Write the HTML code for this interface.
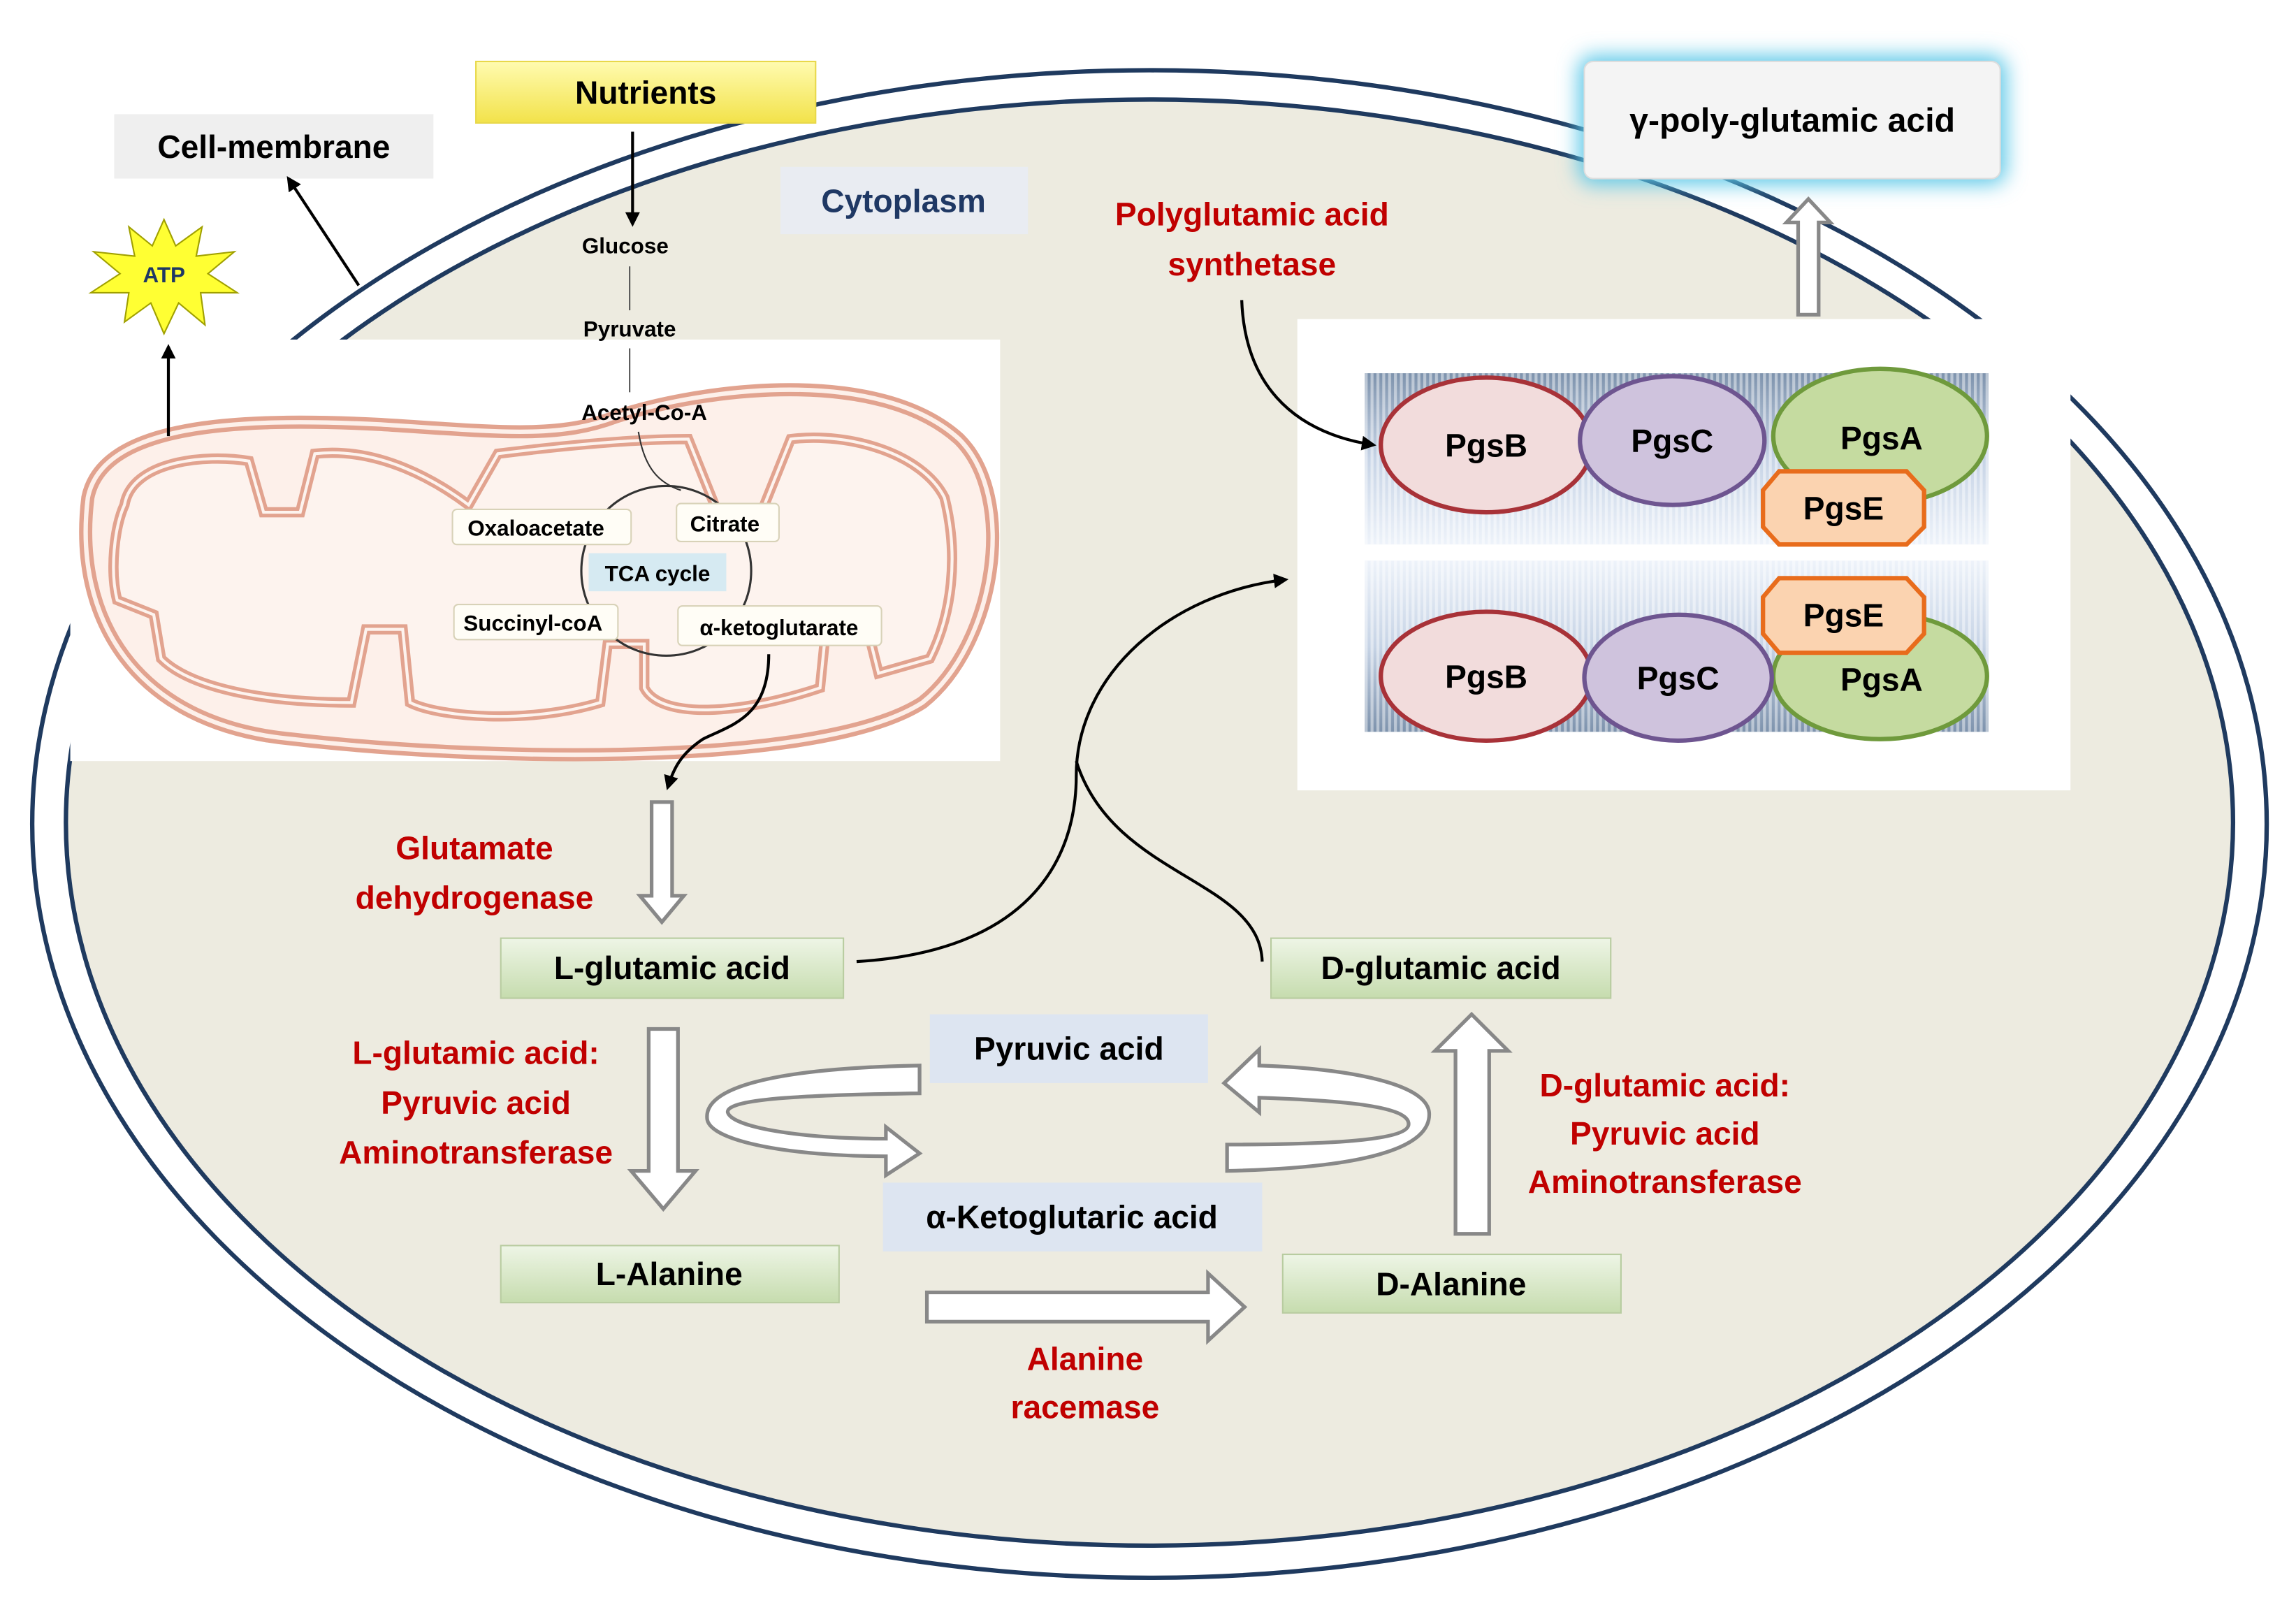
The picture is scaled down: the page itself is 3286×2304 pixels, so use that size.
<!DOCTYPE html>
<html><head><meta charset="utf-8"><style>
html,body{margin:0;padding:0;background:#fff}
svg{display:block}
text{font-family:"Liberation Sans",sans-serif;font-weight:bold}
</style></head><body>
<svg width="3286" height="2304" viewBox="0 0 1568 1100" preserveAspectRatio="none" xmlns="http://www.w3.org/2000/svg">
<defs>
<linearGradient id="yel" x1="0" y1="0" x2="0" y2="1"><stop offset="0" stop-color="#fffbb0"/><stop offset="1" stop-color="#f2e24a"/></linearGradient>
<linearGradient id="grn" x1="0" y1="0" x2="0" y2="1"><stop offset="0" stop-color="#eef5e6"/><stop offset="1" stop-color="#c6dcae"/></linearGradient>
<linearGradient id="memA" x1="0" y1="0" x2="0" y2="1"><stop offset="0" stop-color="#7e93ad"/><stop offset="0.5" stop-color="#c7d4e6"/><stop offset="1" stop-color="#eef3fa"/></linearGradient>
<linearGradient id="memB" x1="0" y1="0" x2="0" y2="1"><stop offset="0" stop-color="#eef3fa"/><stop offset="0.5" stop-color="#c7d4e6"/><stop offset="1" stop-color="#7e93ad"/></linearGradient>
<pattern id="str" width="4" height="10" patternUnits="userSpaceOnUse"><rect width="2" height="10" fill="#ffffff" opacity="0.45"/></pattern>
<filter id="glow" x="-20%" y="-40%" width="140%" height="180%"><feGaussianBlur stdDeviation="7"/></filter>
<marker id="ah" markerWidth="10" markerHeight="10" refX="8" refY="5" orient="auto" markerUnits="userSpaceOnUse"><path d="M0,0 L10,5 L0,10 z" fill="#000"/></marker>
</defs>

<!-- cell -->
<ellipse cx="785" cy="563" rx="763" ry="515" fill="#fff" stroke="#1f3a5f" stroke-width="3"/>
<ellipse cx="785" cy="562" rx="740" ry="494" fill="#edebe0" stroke="#1f3a5f" stroke-width="3"/>

<!-- labels top -->
<rect x="78" y="78" width="218" height="44" fill="#efefef"/>
<text x="187" y="108" font-size="22" text-anchor="middle">Cell-membrane</text>
<line x1="245" y1="195" x2="197" y2="122" stroke="#000" stroke-width="2" marker-end="url(#ah)"/>

<rect x="325" y="42" width="232" height="42" fill="url(#yel)" stroke="#e8d84a"/>
<text x="441" y="71" font-size="22" text-anchor="middle">Nutrients</text>

<rect x="533" y="114" width="169" height="46" fill="#e9ecf2"/>
<text x="617" y="145" font-size="22" text-anchor="middle" fill="#1f3864">Cytoplasm</text>

<rect x="1078" y="38" width="292" height="88" rx="10" fill="#5bc8e8" filter="url(#glow)"/>
<rect x="1082" y="42" width="284" height="80" rx="6" fill="#f4f4f4" stroke="#ddd"/>
<text x="1224" y="90" font-size="23" text-anchor="middle">γ-poly-glutamic acid</text>
<path d="M1228,215 L1228,152 L1220,152 L1235,136 L1250,152 L1242,152 L1242,215 Z" fill="#fff" stroke="#888" stroke-width="2.5"/>

<!-- mitochondrion panel -->
<rect x="48" y="232" width="635" height="288" fill="#fff"/>
<path d="M60,340 C70,290 160,285 260,290 C340,295 380,300 420,285 C480,265 600,250 655,300 C695,340 680,440 630,480 C560,525 330,520 200,505 C90,495 50,420 60,340 Z" fill="#fdf0ea" stroke="#e2a38f" stroke-width="9"/>
<path d="M60,340 C70,290 160,285 260,290 C340,295 380,300 420,285 C480,265 600,250 655,300 C695,340 680,440 630,480 C560,525 330,520 200,505 C90,495 50,420 60,340 Z" fill="none" stroke="#fdf0ea" stroke-width="3"/>
<path d="M85,345 C90,315 140,310 170,315 L180,350 L205,350 L215,310 C260,305 300,330 320,345 L340,310 C380,305 430,300 470,300 L490,350 L520,350 L540,300 C580,295 630,310 645,340 C655,380 650,420 635,450 L600,460 L590,420 L565,420 L560,470 C500,490 450,490 440,470 L440,440 L415,440 L410,480 C360,495 300,490 280,480 L275,430 L250,430 L240,480 C180,480 130,470 110,450 L105,420 L80,410 C75,390 78,360 85,345 Z" fill="#fdf3ee" stroke="#e2a38f" stroke-width="7"/>
<path d="M85,345 C90,315 140,310 170,315 L180,350 L205,350 L215,310 C260,305 300,330 320,345 L340,310 C380,305 430,300 470,300 L490,350 L520,350 L540,300 C580,295 630,310 645,340 C655,380 650,420 635,450 L600,460 L590,420 L565,420 L560,470 C500,490 450,490 440,470 L440,440 L415,440 L410,480 C360,495 300,490 280,480 L275,430 L250,430 L240,480 C180,480 130,470 110,450 L105,420 L80,410 C75,390 78,360 85,345 Z" fill="none" stroke="#fdf3ee" stroke-width="2"/>

<!-- glycolysis -->
<line x1="432" y1="90" x2="432" y2="153" stroke="#000" stroke-width="2" marker-end="url(#ah)"/>
<text x="427" y="173" font-size="15" text-anchor="middle">Glucose</text>
<line x1="430" y1="182" x2="430" y2="212" stroke="#555" stroke-width="1"/>
<text x="430" y="230" font-size="15" text-anchor="middle">Pyruvate</text>
<line x1="430" y1="238" x2="430" y2="268" stroke="#555" stroke-width="1"/>
<text x="440" y="287" font-size="15" text-anchor="middle">Acetyl-Co-A</text>
<path d="M436,295 C440,320 450,330 465,335" fill="none" stroke="#333" stroke-width="1"/>
<circle cx="455" cy="390" r="58" fill="none" stroke="#333" stroke-width="1.5"/>
<rect x="309" y="348" width="122" height="24" rx="3" fill="#fffdf6" stroke="#d8d2b8"/>
<text x="366" y="366" font-size="15" text-anchor="middle">Oxaloacetate</text>
<rect x="462" y="344" width="70" height="26" rx="3" fill="#fffdf6" stroke="#d8d2b8"/>
<text x="495" y="363" font-size="15" text-anchor="middle">Citrate</text>
<rect x="402" y="378" width="94" height="26" fill="#d6eaf2"/>
<text x="449" y="397" font-size="15" text-anchor="middle">TCA cycle</text>
<rect x="310" y="413" width="112" height="24" rx="3" fill="#fffdf6" stroke="#d8d2b8"/>
<text x="364" y="431" font-size="15" text-anchor="middle">Succinyl-coA</text>
<rect x="463" y="414" width="139" height="27" rx="3" fill="#fffdf6" stroke="#d8d2b8"/>
<text x="532" y="434" font-size="15" text-anchor="middle">α-ketoglutarate</text>
<path d="M525,447 C525,490 500,495 480,505 C465,515 460,525 456,538" fill="none" stroke="#000" stroke-width="2" marker-end="url(#ah)"/>

<!-- ATP -->
<polygon points="112,150 120,168 138,155 134,175 160,172 142,187 162,200 137,200 140,222 122,207 112,228 103,207 85,220 88,200 62,200 82,187 64,172 92,175 88,155 104,168" fill="#ffff33" stroke="#a0a000" stroke-width="1"/>
<text x="112" y="193" font-size="15" text-anchor="middle" fill="#1f3864">ATP</text>
<line x1="115" y1="298" x2="115" y2="237" stroke="#000" stroke-width="2" marker-end="url(#ah)"/>

<!-- synthetase panel -->
<rect x="886" y="218" width="528" height="322" fill="#fff"/>
<rect x="932" y="255" width="426" height="117" fill="url(#memA)"/>
<rect x="932" y="255" width="426" height="117" fill="url(#str)"/>
<rect x="932" y="383" width="426" height="117" fill="url(#memB)"/>
<rect x="932" y="383" width="426" height="117" fill="url(#str)"/>

<ellipse cx="1284" cy="298" rx="73" ry="46" fill="#c5dba0" stroke="#6f9a3c" stroke-width="3"/>
<ellipse cx="1015" cy="304" rx="72" ry="46" fill="#f2dcdc" stroke="#a83238" stroke-width="3"/>
<ellipse cx="1142" cy="301" rx="63" ry="44" fill="#cfc3dd" stroke="#6e5590" stroke-width="3"/>
<polygon points="1215,322 1302,322 1314,335 1314,360 1302,372 1215,372 1204,360 1204,335" fill="#fbd3b0" stroke="#e86c1c" stroke-width="3"/>
<text x="1015" y="312" font-size="22" text-anchor="middle">PgsB</text>
<text x="1142" y="309" font-size="22" text-anchor="middle">PgsC</text>
<text x="1285" y="307" font-size="22" text-anchor="middle">PgsA</text>
<text x="1259" y="355" font-size="22" text-anchor="middle">PgsE</text>

<ellipse cx="1284" cy="462" rx="73" ry="43" fill="#c5dba0" stroke="#6f9a3c" stroke-width="3"/>
<ellipse cx="1015" cy="462" rx="72" ry="44" fill="#f2dcdc" stroke="#a83238" stroke-width="3"/>
<ellipse cx="1146" cy="463" rx="64" ry="43" fill="#cfc3dd" stroke="#6e5590" stroke-width="3"/>
<polygon points="1215,395 1302,395 1314,408 1314,433 1302,446 1215,446 1204,433 1204,408" fill="#fbd3b0" stroke="#e86c1c" stroke-width="3"/>
<text x="1015" y="470" font-size="22" text-anchor="middle">PgsB</text>
<text x="1146" y="471" font-size="22" text-anchor="middle">PgsC</text>
<text x="1285" y="472" font-size="22" text-anchor="middle">PgsA</text>
<text x="1259" y="428" font-size="22" text-anchor="middle">PgsE</text>

<text x="855" y="154" font-size="22" text-anchor="middle" fill="#c00000">Polyglutamic acid</text>
<text x="855" y="188" font-size="22" text-anchor="middle" fill="#c00000">synthetase</text>
<path d="M848,205 C850,260 880,295 938,304" fill="none" stroke="#000" stroke-width="2" marker-end="url(#ah)"/>

<!-- connectors -->
<path d="M585,657 C700,650 735,590 735,530 C735,460 800,405 878,396" fill="none" stroke="#000" stroke-width="2" marker-end="url(#ah)"/>
<path d="M862,657 C860,600 760,600 735,520" fill="none" stroke="#000" stroke-width="2"/>

<!-- hollow arrows -->
<path d="M445,548 L459,548 L459,612 L467,612 L452,630 L437,612 L445,612 Z" fill="#fff" stroke="#888" stroke-width="2.5"/>
<path d="M443,703 L463,703 L463,800 L475,800 L453,826 L431,800 L443,800 Z" fill="#fff" stroke="#888" stroke-width="2.5"/>
<path d="M633,883 L825,883 L825,870 L850,893 L825,916 L825,903 L633,903 Z" fill="#fff" stroke="#888" stroke-width="2.5"/>
<path d="M994,843 L1017,843 L1017,718 L1030,718 L1005,693 L980,718 L994,718 Z" fill="#fff" stroke="#888" stroke-width="2.5"/>

<!-- circular arrows -->
<path d="M628,728 C520,730 480,745 483,765 C486,780 540,790 605,790 L605,803 L628,788 L605,770 L605,778 C545,778 500,770 497,760 C495,750 560,748 628,747 Z" fill="#fff" stroke="#888" stroke-width="2.5"/>
<path d="M838,800 C930,798 978,785 976,760 C974,740 920,730 860,728 L860,717 L836,740 L860,760 L860,750 C920,752 962,756 962,768 C962,778 920,782 838,782 Z" fill="#fff" stroke="#888" stroke-width="2.5"/>

<!-- boxes -->
<rect x="342" y="641" width="234" height="41" fill="url(#grn)" stroke="#b8cca0"/>
<text x="459" y="669" font-size="22" text-anchor="middle">L-glutamic acid</text>
<rect x="868" y="641" width="232" height="41" fill="url(#grn)" stroke="#b8cca0"/>
<text x="984" y="669" font-size="22" text-anchor="middle">D-glutamic acid</text>
<rect x="342" y="851" width="231" height="39" fill="url(#grn)" stroke="#b8cca0"/>
<text x="457" y="878" font-size="22" text-anchor="middle">L-Alanine</text>
<rect x="876" y="857" width="231" height="40" fill="url(#grn)" stroke="#b8cca0"/>
<text x="991" y="885" font-size="22" text-anchor="middle">D-Alanine</text>
<rect x="635" y="693" width="190" height="47" fill="#dde5f1"/>
<text x="730" y="724" font-size="22" text-anchor="middle">Pyruvic acid</text>
<rect x="603" y="808" width="259" height="47" fill="#dde5f1"/>
<text x="732" y="839" font-size="22" text-anchor="middle">α-Ketoglutaric acid</text>

<!-- red labels -->
<g fill="#c00000" font-size="22" text-anchor="middle">
<text x="324" y="587">Glutamate</text>
<text x="324" y="621">dehydrogenase</text>
<text x="325" y="727">L-glutamic acid:</text>
<text x="325" y="761">Pyruvic acid</text>
<text x="325" y="795">Aminotransferase</text>
<text x="1137" y="749">D-glutamic acid:</text>
<text x="1137" y="782">Pyruvic acid</text>
<text x="1137" y="815">Aminotransferase</text>
<text x="741" y="936">Alanine</text>
<text x="741" y="969">racemase</text>
</g>
</svg>
</body></html>
